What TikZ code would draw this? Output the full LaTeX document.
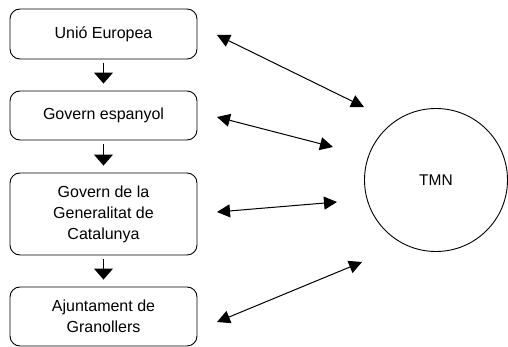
\documentclass[tikz,border=0pt]{standalone}
\usepackage{fontspec}
\setmainfont{Liberation Sans}
\usetikzlibrary{arrows.meta}

\begin{document}
\begin{tikzpicture}[x=1pt,y=-1pt,
    level/.style={draw, rounded corners=10pt, line width=0.9pt, minimum width=187pt,
        inner sep=0pt, align=center, font=\fontsize{16}{21}\selectfont},
    down/.style={-{Triangle[length=11pt,width=19pt]}, line width=1pt,
        shorten <=4pt, shorten >=7pt},
    link/.style={{Triangle[length=13pt,width=13pt]}-{Triangle[length=13pt,width=13pt]},
        line width=1pt}]

    \useasboundingbox (0,0) rectangle (508,347);

    % levels of government
    \node (ue) at (103.5,34) [level, minimum height=50pt] {Unió Europea};
    \node (ge) at (103.5,115.5) [level, minimum height=49pt] {Govern espanyol};
    \node (gc) at (103.5,214) [level, minimum height=82pt] {Govern de la\\Generalitat de\\Catalunya};
    \node (aj) at (103.5,316.5) [level, minimum height=59pt] {Ajuntament de\\Granollers};

    \node (tmn) at (436,180) [draw, circle, line width=0.9pt, minimum size=143pt,
        font=\fontsize{15.5}{18}\selectfont] {TMN};

    \draw [down] (ue) -- (ge);
    \draw [down] (ge) -- (gc);
    \draw [down] (gc) -- (aj);

    % links with TMN
    \coordinate (ue-l) at (217,35);   \coordinate (ue-r) at (364,107);
    \coordinate (ge-l) at (217,117);  \coordinate (ge-r) at (333,147);
    \coordinate (gc-l) at (217,212);  \coordinate (gc-r) at (337,202);
    \coordinate (aj-l) at (217,322);  \coordinate (aj-r) at (362,262);

    \draw [link] (ue-l) -- (ue-r);
    \draw [link] (ge-l) -- (ge-r);
    \draw [link] (gc-l) -- (gc-r);
    \draw [link] (aj-l) -- (aj-r);
\end{tikzpicture}
\end{document}
